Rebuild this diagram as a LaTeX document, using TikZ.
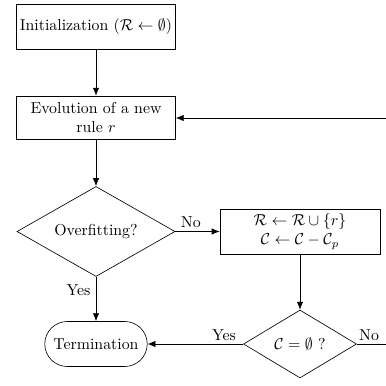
\documentclass[tikz,border=0pt]{standalone}
\usepackage{amssymb}
\usetikzlibrary{shapes.geometric,shapes.misc,arrows.meta}
\begin{document}
\begin{tikzpicture}[x=0.631pt,y=-0.631pt,>={Latex[length=5pt,width=4pt]},
  procbox/.style={draw,rectangle,minimum width=100.3pt,minimum height=28.4pt,align=center,inner sep=1pt},
  decide/.style={draw,diamond,inner sep=1pt},
  termbox/.style={draw,rounded rectangle,minimum width=71.3pt,minimum height=28.4pt}]
\useasboundingbox (0,0) rectangle (386,386);
\node[procbox] (init) at (96,26.5) {Initialization ($\mathcal{R}\leftarrow\emptyset$)};
\node[procbox,minimum height=27.1pt] (evo) at (96,117.5) {Evolution of a new\\rule $r$};
\node[decide,minimum width=99.7pt,minimum height=56.8pt,aspect=1.75] (over) at (96,231.5) {Overfitting?};
\node[procbox,minimum width=101pt] (upd) at (300,231.5) {$\mathcal{R}\leftarrow\mathcal{R}\cup\{r\}$\\$\mathcal{C}\leftarrow\mathcal{C}-\mathcal{C}_p$};
\node[decide,minimum width=71.3pt,minimum height=42.9pt,aspect=1.67] (empty) at (300,344) {$\mathcal{C}=\emptyset$ ?};
\node[termbox] (term) at (96,344) {Termination};
\coordinate (loopA) at (392,344);
\coordinate (loopB) at (392,118);
\draw[->] (init) -- (evo);
\draw[->] (evo) -- (over);
\draw[->] (over.east) -- node[above,pos=0.35,inner sep=2pt] {No} (upd.west);
\draw[->] (upd) -- (empty);
\draw[->] (over.south) -- node[left,pos=0.3] {Yes} (term.north);
\draw[->] (empty.west) -- node[above,pos=0.2,inner sep=2pt] {Yes} (term.east);
\draw (empty.east) -- node[above,pos=0.35,inner sep=2pt] {No} (loopA) -- (loopB);
\draw[->] (loopB) -- (evo.east |- loopB);
\end{tikzpicture}
\end{document}
